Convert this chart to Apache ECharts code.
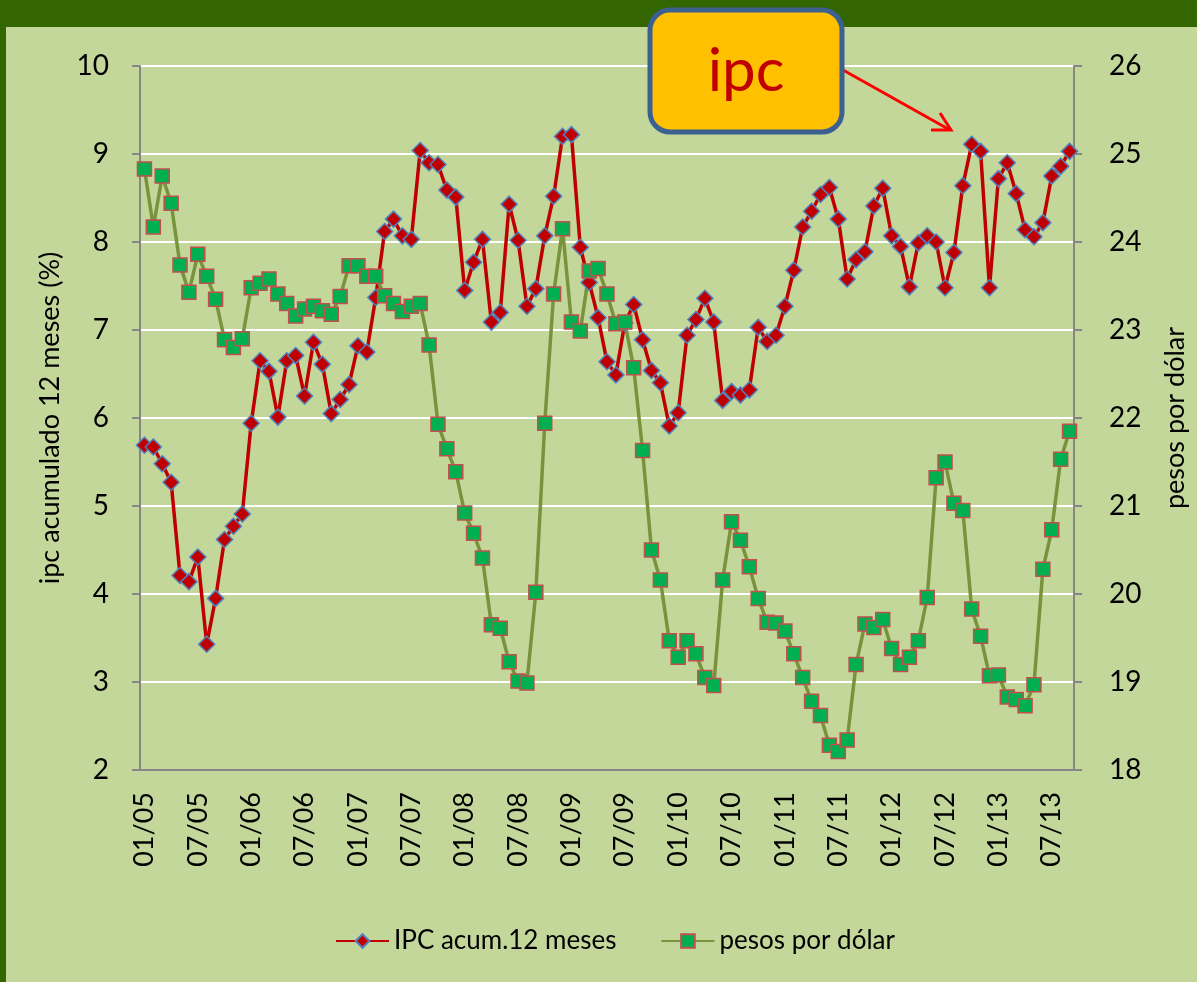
<!DOCTYPE html>
<html>
<head>
<meta charset="utf-8">
<title>ipc y pesos por dólar</title>
<script src="https://cdn.jsdelivr.net/npm/echarts@6/dist/echarts.min.js"></script>
<style>
  html, body { margin: 0; padding: 0; }
  #chart { width: 1197px; height: 982px; }
</style>
</head>
<body>
<div id="chart"></div>
<script>
// meses 01/05 .. 09/13
const months = [
  '01/05','02/05','03/05','04/05','05/05','06/05','07/05','08/05','09/05','10/05','11/05','12/05',
  '01/06','02/06','03/06','04/06','05/06','06/06','07/06','08/06','09/06','10/06','11/06','12/06',
  '01/07','02/07','03/07','04/07','05/07','06/07','07/07','08/07','09/07','10/07','11/07','12/07',
  '01/08','02/08','03/08','04/08','05/08','06/08','07/08','08/08','09/08','10/08','11/08','12/08',
  '01/09','02/09','03/09','04/09','05/09','06/09','07/09','08/09','09/09','10/09','11/09','12/09',
  '01/10','02/10','03/10','04/10','05/10','06/10','07/10','08/10','09/10','10/10','11/10','12/10',
  '01/11','02/11','03/11','04/11','05/11','06/11','07/11','08/11','09/11','10/11','11/11','12/11',
  '01/12','02/12','03/12','04/12','05/12','06/12','07/12','08/12','09/12','10/12','11/12','12/12',
  '01/13','02/13','03/13','04/13','05/13','06/13','07/13','08/13','09/13'
]

// IPC acumulado 12 meses (%)
const ipc = [
  5.69, 5.67, 5.48, 5.27, 4.21, 4.14, 4.42, 3.43, 3.95, 4.62, 4.77, 4.91,
  5.94, 6.65, 6.53, 6.01, 6.65, 6.71, 6.25, 6.86, 6.61, 6.05, 6.21, 6.38,
  6.82, 6.75, 7.37, 8.12, 8.26, 8.07, 8.03, 9.04, 8.90, 8.88, 8.59, 8.51,
  7.45, 7.77, 8.03, 7.09, 7.20, 8.43, 8.02, 7.27, 7.47, 8.07, 8.52, 9.20,
  9.22, 7.94, 7.54, 7.14, 6.64, 6.49, 7.08, 7.29, 6.89, 6.54, 6.40, 5.91,
  6.06, 6.94, 7.12, 7.36, 7.09, 6.20, 6.30, 6.26, 6.32, 7.03, 6.87, 6.94,
  7.27, 7.68, 8.17, 8.35, 8.54, 8.62, 8.26, 7.58, 7.80, 7.89, 8.41, 8.61,
  8.07, 7.95, 7.49, 7.99, 8.07, 8.00, 7.48, 7.88, 8.64, 9.11, 9.03, 7.48,
  8.72, 8.90, 8.55, 8.14, 8.06, 8.22, 8.75, 8.86, 9.03
]

// pesos por dólar
const pesos = [
  24.83, 24.17, 24.75, 24.44, 23.74, 23.43, 23.86, 23.61, 23.35, 22.89, 22.80, 22.90,
  23.48, 23.53, 23.58, 23.41, 23.30, 23.16, 23.24, 23.27, 23.22, 23.18, 23.38, 23.73,
  23.73, 23.61, 23.61, 23.39, 23.30, 23.21, 23.27, 23.30, 22.83, 21.93, 21.65, 21.39,
  20.92, 20.69, 20.41, 19.65, 19.61, 19.23, 19.01, 18.99, 20.02, 21.94, 23.41, 24.15,
  23.09, 22.99, 23.67, 23.70, 23.41, 23.07, 23.09, 22.57, 21.63, 20.50, 20.16, 19.47,
  19.28, 19.47, 19.32, 19.05, 18.96, 20.16, 20.82, 20.61, 20.31, 19.95, 19.68, 19.67,
  19.58, 19.32, 19.05, 18.78, 18.62, 18.28, 18.21, 18.34, 19.20, 19.66, 19.62, 19.71,
  19.38, 19.20, 19.28, 19.47, 19.96, 21.32, 21.50, 21.03, 20.95, 19.83, 19.52, 19.07,
  19.08, 18.83, 18.80, 18.73, 18.97, 20.28, 20.73, 21.53, 21.85
]

const font = 'Lato, "Open Sans", sans-serif'
const axisGray = '#868686'

const chart = echarts.init(document.getElementById('chart'))

const option = {
  backgroundColor: '#C4D79B',
  textStyle: { fontFamily: font },
  animation: false,
  grid: { left: 140, right: 119, top: 66, bottom: 212, containLabel: false },
  legend: {
    bottom: 23,
    left: 330,
    itemWidth: 53,
    itemHeight: 17,
    itemGap: 44,
    textStyle: { fontSize: 26, color: '#000', fontFamily: font },
    data: ['IPC acum.12 meses', 'pesos por dólar']
  },
  xAxis: {
    type: 'category',
    data: months,
    boundaryGap: true,
    axisLine: { lineStyle: { color: axisGray, width: 2 } },
    axisTick: { interval: 5, length: 8, lineStyle: { color: axisGray, width: 2 } },
    axisLabel: { interval: 5, rotate: 90, margin: 22, fontSize: 27, color: '#000' },
    splitLine: { show: false }
  },
  yAxis: [
    {
      type: 'value',
      min: 2,
      max: 10,
      interval: 1,
      name: 'ipc acumulado 12 meses (%)',
      nameLocation: 'middle',
      nameRotate: 90,
      nameGap: 76,
      nameTextStyle: { fontSize: 27, color: '#000' },
      axisLine: { show: true, lineStyle: { color: axisGray, width: 2 } },
      axisTick: { show: true, length: 8, lineStyle: { color: axisGray, width: 2 } },
      axisLabel: { margin: 31, fontSize: 28, color: '#000' },
      splitLine: { lineStyle: { color: '#ffffff', width: 2 } }
    },
    {
      type: 'value',
      min: 18,
      max: 26,
      interval: 1,
      position: 'right',
      name: 'pesos por dólar',
      nameLocation: 'middle',
      nameRotate: 90,
      nameGap: 88,
      nameTextStyle: { fontSize: 27, color: '#000' },
      axisLine: { show: true, lineStyle: { color: axisGray, width: 2 } },
      axisTick: { show: true, length: 8, lineStyle: { color: axisGray, width: 2 } },
      axisLabel: { margin: 35, fontSize: 28, color: '#000' },
      splitLine: { show: false }
    }
  ],
  series: [
    {
      name: 'IPC acum.12 meses',
      type: 'line',
      yAxisIndex: 0,
      data: ipc,
      symbol: 'diamond',
      symbolSize: 16,
      showAllSymbol: true,
      lineStyle: { color: '#C00000', width: 3.5 },
      itemStyle: { color: '#C00000', borderColor: '#4F81BD', borderWidth: 1.5 }
    },
    {
      name: 'pesos por dólar',
      type: 'line',
      yAxisIndex: 1,
      data: pesos,
      symbol: 'rect',
      symbolSize: 14,
      showAllSymbol: true,
      lineStyle: { color: '#77933C', width: 3.5 },
      itemStyle: { color: '#00B050', borderColor: '#C0504D', borderWidth: 1.5 }
    }
  ],
  graphic: [
    // marco verde oscuro
    { type: 'rect', shape: { x: 0, y: 0, width: 1197, height: 27 }, style: { fill: '#336600' }, z: 0 },
    { type: 'rect', shape: { x: 0, y: 0, width: 6, height: 982 }, style: { fill: '#336600' }, z: 0 },
    // flecha
    {
      type: 'line',
      shape: { x1: 843, y1: 70, x2: 950, y2: 130 },
      style: { stroke: '#FF0000', lineWidth: 3 },
      z: 10
    },
    {
      type: 'polyline',
      shape: { points: [[931, 130], [951, 130], [940, 113]] },
      style: { stroke: '#FF0000', lineWidth: 3, fill: null },
      z: 10
    },
    // recuadro "ipc"
    {
      type: 'rect',
      shape: { x: 650, y: 10, width: 192, height: 122, r: 20 },
      style: { fill: '#FFC000', stroke: '#3B6091', lineWidth: 5 },
      z: 11
    },
    {
      type: 'text',
      x: 746,
      y: 72,
      style: {
        text: 'ipc',
        fill: '#C00000',
        font: '60px ' + font,
        align: 'center',
        verticalAlign: 'middle'
      },
      z: 12
    }
  ]
}

chart.setOption(option)
</script>
</body>
</html>
